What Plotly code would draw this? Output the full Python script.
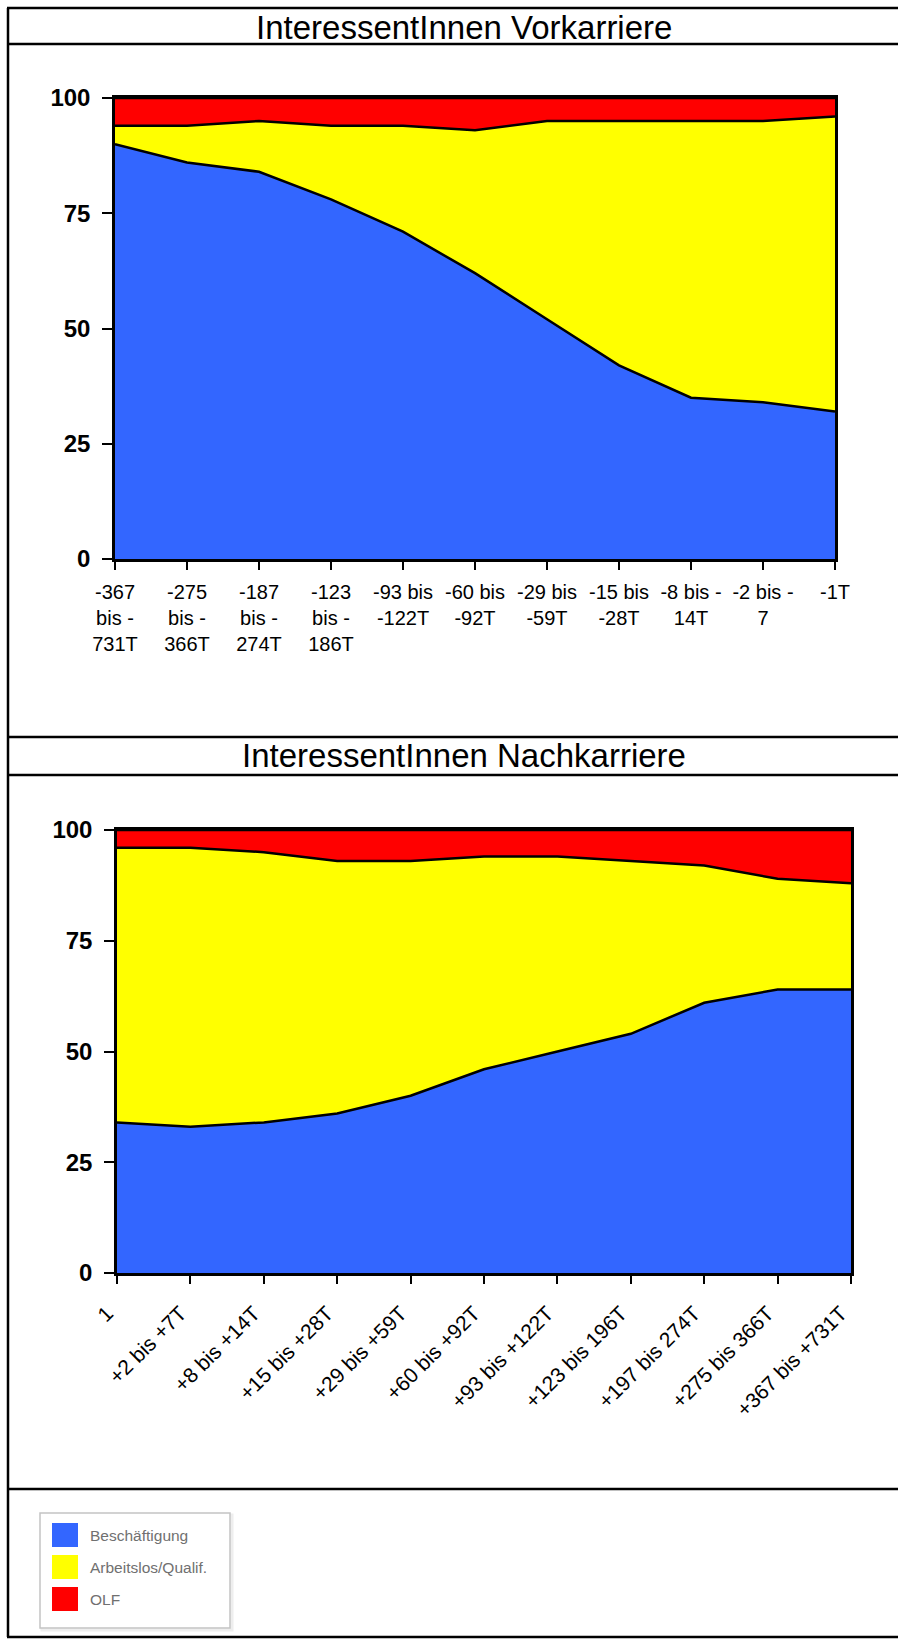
import plotly.graph_objects as go

W, H = 898, 1643

# ---------------- data ----------------
cats_vor = ["-367<br>bis -<br>731T", "-275<br>bis -<br>366T", "-187<br>bis -<br>274T",
            "-123<br>bis -<br>186T", "-93 bis<br>-122T", "-60 bis<br>-92T", "-29 bis<br>-59T",
            "-15 bis<br>-28T", "-8 bis -<br>14T", "-2 bis -<br>7", "-1T"]
cats_nach = ["1", "+2 bis +7T", "+8 bis +14T", "+15 bis +28T", "+29 bis +59T",
             "+60 bis +92T", "+93 bis +122T", "+123 bis 196T", "+197 bis 274T",
             "+275 bis 366T", "+367 bis +731T"]

series_names = ["Beschäftigung", "Arbeitslos/Qualif.", "OLF"]
series_colors = ["#3366FF", "#FFFF00", "#FF0000"]

vor_beschaeftigung = [90, 86, 84, 78, 71, 62, 52, 42, 35, 34, 32]
vor_arbeitslos = [4, 8, 11, 16, 23, 31, 43, 53, 60, 61, 64]
vor_olf = [6, 6, 5, 6, 6, 7, 5, 5, 5, 5, 4]

nach_beschaeftigung = [34, 33, 34, 36, 40, 46, 50, 54, 61, 64, 64]
nach_arbeitslos = [62, 63, 61, 57, 53, 48, 44, 39, 31, 25, 24]
nach_olf = [4, 4, 5, 7, 7, 6, 6, 7, 8, 11, 12]

y_ticks = [0, 25, 50, 75, 100]
titles = ["InteressentInnen Vorkarriere", "InteressentInnen Nachkarriere"]


def px(x):
    return x / W


def py(y):
    return 1 - y / H


fig = go.Figure()

for vals, name, col in zip([vor_beschaeftigung, vor_arbeitslos, vor_olf], series_names, series_colors):
    fig.add_trace(go.Scatter(x=cats_vor, y=vals, name=name, mode="lines", stackgroup="vor",
                             line=dict(color="black", width=2.5), fillcolor=col,
                             xaxis="x", yaxis="y", showlegend=False))
for vals, name, col in zip([nach_beschaeftigung, nach_arbeitslos, nach_olf], series_names, series_colors):
    fig.add_trace(go.Scatter(x=cats_nach, y=vals, name=name, mode="lines", stackgroup="nach",
                             line=dict(color="black", width=2.5), fillcolor=col,
                             xaxis="x2", yaxis="y2", showlegend=False))

font_family = "Liberation Sans, Arial, sans-serif"
xcommon = dict(type="category", range=[0, 10], showline=True, linecolor="black", linewidth=2.5,
               mirror=True, ticks="outside", ticklen=8, tickwidth=2, tickcolor="black",
               showgrid=False, zeroline=False, automargin=False)
ycommon = dict(range=[0, 100], tickvals=y_ticks, showline=True, linecolor="black", linewidth=2.5,
               mirror=True, ticks="outside", ticklen=10, tickwidth=2, tickcolor="black",
               showgrid=False, zeroline=False, ticklabelstandoff=7, automargin=False,
               tickfont=dict(family=font_family, size=24, color="black", weight="bold"))

fig.update_layout(
    width=W, height=H, margin=dict(l=0, r=0, t=0, b=0, pad=0), autosize=False,
    paper_bgcolor="white", plot_bgcolor="white",
    xaxis=dict(domain=[px(115), px(835)], anchor="y", tickangle=0, ticklabelstandoff=5,
               tickfont=dict(family=font_family, size=20, color="black"), **xcommon),
    yaxis=dict(domain=[py(559), py(98)], anchor="x", **ycommon),
    xaxis2=dict(domain=[px(117), px(851)], anchor="y2", tickangle=-45, ticklabelstandoff=9,
                ticklabelshift=-10,
                tickfont=dict(family=font_family, size=21, color="black"), **xcommon),
    yaxis2=dict(domain=[py(1273), py(830)], anchor="x2", **ycommon),
)

shapes = []
# frame
for yline in [8, 44, 737, 775, 1489, 1637]:
    shapes.append(dict(type="line", xref="paper", yref="paper", x0=px(7), x1=1.0,
                       y0=py(yline), y1=py(yline), line=dict(color="black", width=2.5)))
shapes.append(dict(type="line", xref="paper", yref="paper", x0=px(8), x1=px(8),
                   y0=py(8), y1=py(1637), line=dict(color="black", width=2.5)))

annotations = []
for t, yc in zip(titles, [28, 756]):
    annotations.append(dict(text=t, xref="paper", yref="paper", x=px(464), y=py(yc),
                            xanchor="center", yanchor="middle", showarrow=False,
                            font=dict(family=font_family, size=33, color="black")))

# legend box
shapes.append(dict(type="rect", xref="paper", yref="paper", x0=px(42), x1=px(232),
                   y0=py(1515), y1=py(1630), line=dict(color="#eeeeee", width=3)))
shapes.append(dict(type="rect", xref="paper", yref="paper", x0=px(40), x1=px(230),
                   y0=py(1513), y1=py(1628), line=dict(color="#c4c4c4", width=1.5),
                   fillcolor="white"))
sw_tops = [1523, 1555, 1587]
for name, col, top in zip(series_names, series_colors, sw_tops):
    shapes.append(dict(type="rect", xref="paper", yref="paper", x0=px(52), x1=px(78),
                       y0=py(top + 24), y1=py(top), line=dict(color=col, width=0),
                       fillcolor=col))
    annotations.append(dict(text=name, xref="paper", yref="paper", x=px(88), y=py(top + 12),
                            xanchor="left", yanchor="middle", showarrow=False,
                            font=dict(family=font_family, size=15.5, color="#707070")))

fig.update_layout(shapes=shapes, annotations=annotations)

fig.write_html("out.html")
